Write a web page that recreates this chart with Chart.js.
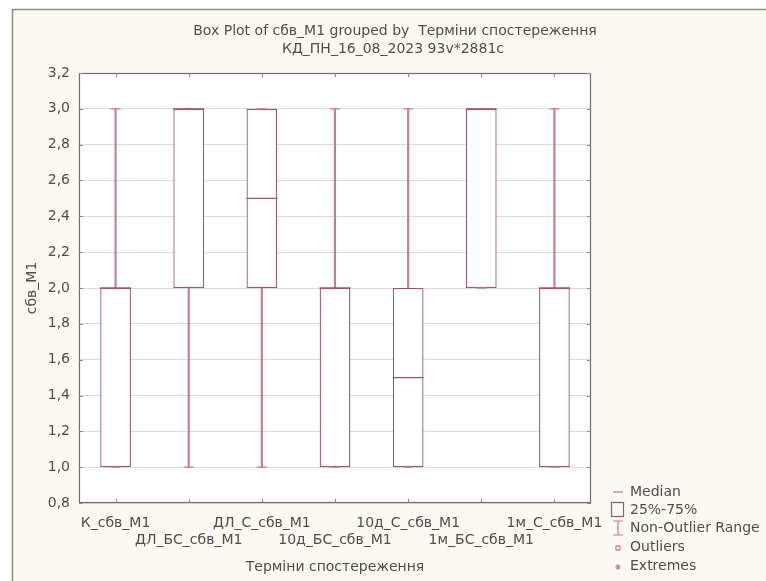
<!DOCTYPE html>
<html>
<head>
<meta charset="utf-8">
<title>Box Plot of сбв_M1</title>
<script src="https://cdn.jsdelivr.net/npm/chart.js@4.4.0/dist/chart.umd.min.js"></script>
<style>
  html, body { margin: 0; padding: 0; background: #fff; }
  #wrap { width: 766px; height: 581px; }
</style>
</head>
<body>
<div id="wrap"><canvas id="boxChart" width="766" height="581"></canvas></div>
<script>
// Групи (терміни спостереження)
const categories = ['К_сбв_M1', 'ДЛ_БС_сбв_M1', 'ДЛ_С_сбв_M1', '10д_БС_сбв_M1', '10д_С_сбв_M1', '1м_БС_сбв_M1', '1м_С_сбв_M1'];

// Статистики для кожної групи
const rangeMin = [1, 1, 1, 1, 1, 2, 1];
const q1 = [1, 2, 2, 1, 1, 2, 1];
const medians = [2, 3, 2.5, 2, 1.5, 3, 2];
const q3 = [2, 3, 3, 2, 2, 3, 2];
const rangeMax = [3, 3, 3, 3, 3, 3, 3];

// Вісь Y
const yMin = 0.8;
const yMax = 3.2;
const yStep = 0.2;

const titleLines = ['Box Plot of сбв_M1 grouped by  Терміни спостереження', 'КД_ПН_16_08_2023 93v*2881c'];
const legendItems = ['Median', '25%-75%', 'Non-Outlier Range', 'Outliers', 'Extremes'];

const boxColor = '#9a5a6a';
const whiskerColor = '#c47e8e';
const textColor = '#4e4e4e';
const fontFamily = '"DejaVu Sans", sans-serif';

const panelPlugin = {
    id: 'panel',
    beforeDraw(chart) {
        const { ctx, chartArea: a, width, height } = chart;
        ctx.save();
        ctx.fillStyle = '#ffffff';
        ctx.fillRect(0, 0, width, height);
        ctx.fillStyle = '#fcf8f2';
        ctx.fillRect(12, 9, width - 12, height - 9);
        ctx.strokeStyle = '#8e8a86';
        ctx.lineWidth = 1.5;
        ctx.beginPath();
        ctx.moveTo(12.5, height);
        ctx.lineTo(12.5, 9.5);
        ctx.lineTo(width, 9.5);
        ctx.stroke();
        // біле поле графіка
        ctx.fillStyle = '#ffffff';
        ctx.fillRect(a.left, a.top, a.right - a.left, a.bottom - a.top);
        ctx.restore();
    },
    afterDraw(chart) {
        const { ctx, chartArea: a } = chart;
        const xs = chart.scales.x;
        const ys = chart.scales.y;
        ctx.save();

        // рамка
        ctx.strokeStyle = '#6f6f6f';
        ctx.lineWidth = 1.2;
        ctx.strokeRect(a.left + 0.5, a.top + 0.5, a.right - a.left - 1, a.bottom - a.top - 1);

        // маленькі риски всередині рамки
        ctx.strokeStyle = '#8a8a8a';
        ctx.lineWidth = 1;
        ctx.beginPath();
        ys.ticks.forEach((t, i) => {
            const y = Math.round(ys.getPixelForTick(i)) + 0.5;
            ctx.moveTo(a.left, y); ctx.lineTo(a.left + 4, y);
            ctx.moveTo(a.right, y); ctx.lineTo(a.right - 4, y);
        });
        categories.forEach((c, i) => {
            const x = Math.round(xs.getPixelForValue(i)) + 0.5;
            ctx.moveTo(x, a.top); ctx.lineTo(x, a.top + 4);
            ctx.moveTo(x, a.bottom); ctx.lineTo(x, a.bottom - 4);
        });
        ctx.stroke();

        // заголовок
        ctx.fillStyle = textColor;
        ctx.font = '14px ' + fontFamily;
        ctx.textAlign = 'center';
        ctx.textBaseline = 'middle';
        ctx.fillText(titleLines[0], 395, 31);
        ctx.fillText(titleLines[1], 393, 49);

        // легенда
        const lx = 618;
        const ly = [492, 510, 528, 547, 566];
        ctx.strokeStyle = whiskerColor;
        ctx.lineWidth = 1.2;
        ctx.beginPath();
        ctx.moveTo(lx - 5, ly[0]); ctx.lineTo(lx + 5, ly[0]);
        ctx.stroke();
        ctx.strokeStyle = boxColor;
        ctx.strokeRect(lx - 6.5, ly[1] - 7.5, 12, 14);
        ctx.strokeStyle = whiskerColor;
        ctx.beginPath();
        ctx.moveTo(lx - 5, ly[2] - 7); ctx.lineTo(lx + 5, ly[2] - 7);
        ctx.moveTo(lx, ly[2] - 7); ctx.lineTo(lx, ly[2] + 7);
        ctx.moveTo(lx - 5, ly[2] + 7); ctx.lineTo(lx + 5, ly[2] + 7);
        ctx.stroke();
        ctx.beginPath();
        ctx.arc(lx, ly[3] + 1, 2.3, 0, Math.PI * 2);
        ctx.stroke();
        ctx.beginPath();
        for (let k = 0; k < 3; k++) {
            const ang = k * Math.PI / 3;
            ctx.moveTo(lx - Math.cos(ang) * 2.8, ly[4] + 1 - Math.sin(ang) * 2.8);
            ctx.lineTo(lx + Math.cos(ang) * 2.8, ly[4] + 1 + Math.sin(ang) * 2.8);
        }
        ctx.stroke();

        ctx.fillStyle = textColor;
        ctx.textAlign = 'left';
        legendItems.forEach((txt, i) => ctx.fillText(txt, 630, ly[i]));
        ctx.restore();
    }
};

const ctx = document.getElementById('boxChart');

new Chart(ctx, {
    type: 'bar',
    data: {
        labels: categories,
        datasets: [
            {
                type: 'line',
                label: 'Median',
                data: medians,
                showLine: false,
                pointStyle: 'line',
                pointRadius: 15.5,
                pointBorderWidth: 1.3,
                borderColor: boxColor,
                order: 0
            },
            {
                type: 'line',
                label: 'max',
                data: rangeMax,
                showLine: false,
                pointStyle: 'line',
                pointRadius: 5,
                pointBorderWidth: 1.4,
                borderColor: whiskerColor,
                order: 1
            },
            {
                type: 'line',
                label: 'min',
                data: rangeMin,
                showLine: false,
                pointStyle: 'line',
                pointRadius: 5,
                pointBorderWidth: 1.4,
                borderColor: whiskerColor,
                order: 1
            },
            {
                label: '25%-75%',
                data: categories.map((c, i) => [q1[i], q3[i]]),
                backgroundColor: '#ffffff',
                borderColor: boxColor,
                borderWidth: 1.3,
                borderSkipped: false,
                grouped: false,
                categoryPercentage: 1,
                barPercentage: 0.42,
                order: 2
            },
            {
                label: 'Non-Outlier Range',
                data: categories.map((c, i) => [rangeMin[i], rangeMax[i]]),
                backgroundColor: whiskerColor,
                borderWidth: 0,
                barThickness: 1.5,
                grouped: false,
                order: 3
            }
        ]
    },
    options: {
        responsive: false,
        animation: false,
        events: [],
        layout: {
            padding: { left: 20, right: 175, top: 73, bottom: 4 }
        },
        plugins: {
            legend: { display: false },
            tooltip: { enabled: false },
            title: { display: false }
        },
        scales: {
            x: {
                type: 'category',
                offset: true,
                grid: { display: false },
                border: { display: false },
                ticks: {
                    autoSkip: false,
                    maxRotation: 0,
                    minRotation: 0,
                    padding: 4,
                    color: textColor,
                    font: { family: fontFamily, size: 14, lineHeight: 1.2 },
                    callback: function(v, i) {
                        return i % 2 === 0 ? [categories[i], ''] : ['', categories[i]];
                    }
                },
                title: {
                    display: true,
                    text: 'Терміни спостереження',
                    color: textColor,
                    font: { family: fontFamily, size: 14 },
                    padding: { top: 0, bottom: 1 }
                },
                afterFit: function(scale) { scale.height = 74; }
            },
            y: {
                min: yMin,
                max: yMax,
                grid: { color: '#dcdcdc', drawTicks: false },
                border: { display: false },
                ticks: {
                    stepSize: yStep,
                    padding: 9,
                    color: textColor,
                    font: { family: fontFamily, size: 14 },
                    callback: v => v.toFixed(1).replace('.', ',')
                },
                title: {
                    display: true,
                    text: 'сбв_M1',
                    color: textColor,
                    font: { family: fontFamily, size: 14 },
                    padding: { top: 4, bottom: 4 }
                },
                afterFit: function(scale) { scale.width = 59; }
            }
        }
    },
    plugins: [panelPlugin]
});
</script>
</body>
</html>
